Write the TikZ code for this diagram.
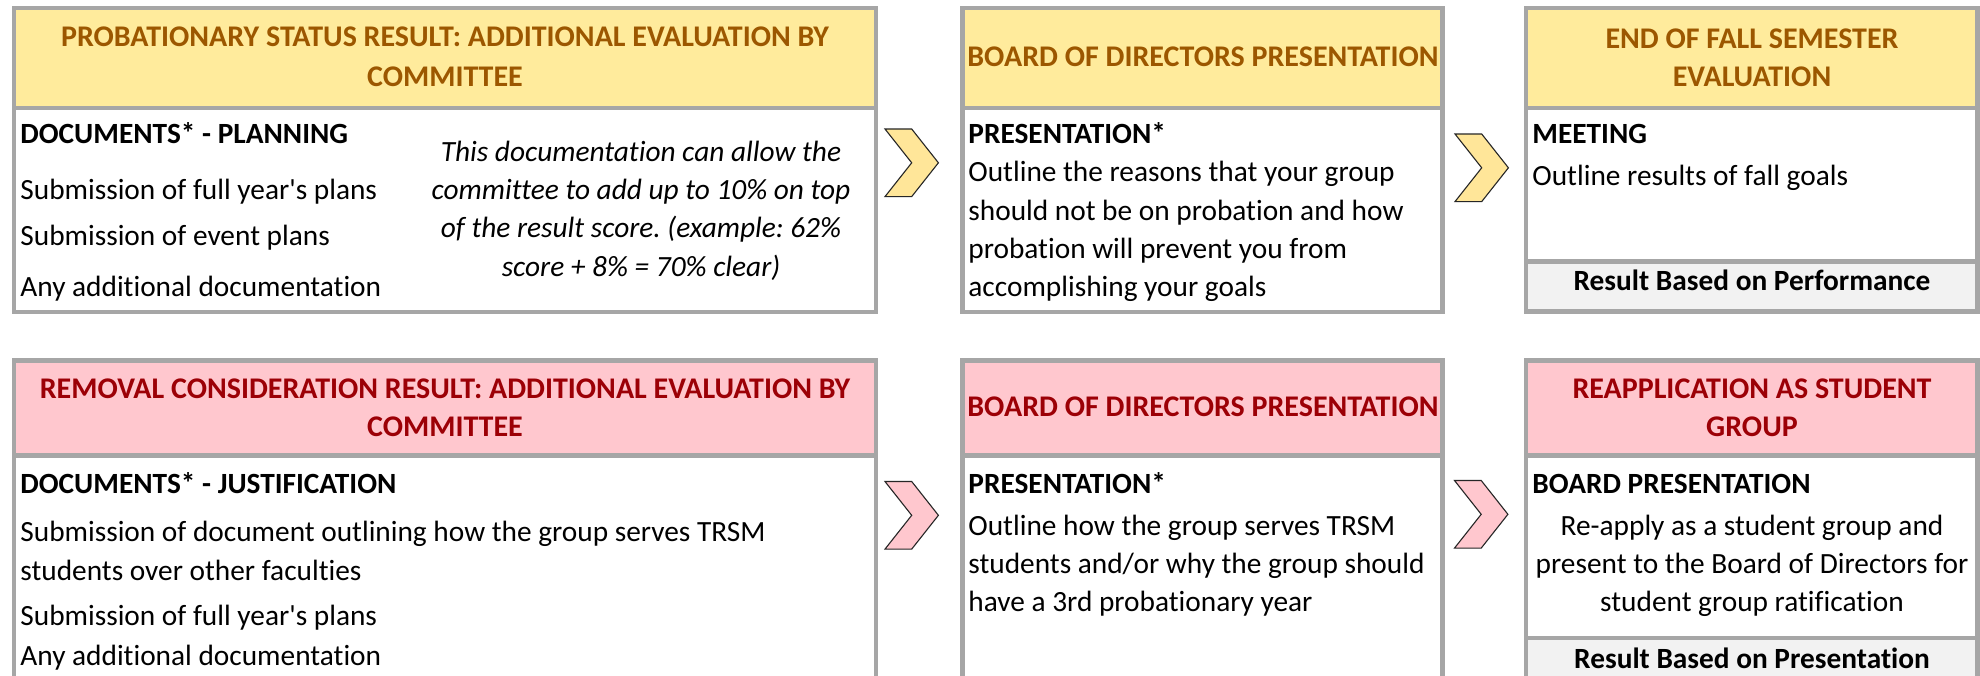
\documentclass[tikz,border=0pt]{standalone}
\usepackage{fontspec}
\setmainfont{Carlito}[Ligatures={NoCommon}]
\frenchspacing

\definecolor{neutralfill}{HTML}{FFEB9C}
\definecolor{neutraltext}{HTML}{9C5700}
\definecolor{badfill}{HTML}{FFC7CE}
\definecolor{badtext}{HTML}{9C0006}
\definecolor{cellgray}{HTML}{A6A6A6}
\definecolor{resultfill}{HTML}{F2F2F2}
\definecolor{chevfill}{HTML}{FFE699}

\newcommand\cellfont{\fontsize{14.67pt}{19.17pt}\selectfont}
\newcommand\headfont{\fontsize{15pt}{19.17pt}\selectfont\bfseries}

\tikzset{
  gridline/.style={draw=cellgray, line width=2.25pt},
  txt/.style={inner sep=0pt, anchor=base west},
  ctxt/.style={inner sep=0pt, anchor=base},
  neutralhead/.style={ctxt, font=\headfont, text=neutraltext},
  badhead/.style={ctxt, font=\headfont, text=badtext},
  chevyellow/.style={fill=chevfill, draw=black!85, line width=0.55pt, line join=miter},
  chevpink/.style={fill=badfill, draw=black!85, line width=0.55pt, line join=miter}
}

\begin{document}
\begin{tikzpicture}[x=0.5pt, y=-0.5pt, font=\cellfont]
\useasboundingbox (0,0) rectangle (1980,675);
\clip (0,0) rectangle (1980,675);
\fill[white] (0,0) rectangle (1980,675);

% fills of the header and result cells
\fill[neutralfill] (14,8) rectangle (876,108);
\fill[neutralfill] (962.5,8) rectangle (1442.5,108);
\fill[neutralfill] (1526,8) rectangle (1977.5,108);
\fill[resultfill] (1526,261.5) rectangle (1977.5,311.5);
\fill[badfill] (14,360.5) rectangle (876,455.5);
\fill[badfill] (962.5,360.5) rectangle (1442.5,455.5);
\fill[badfill] (1526,360.5) rectangle (1977.5,455.5);
\fill[resultfill] (1526,638) rectangle (1977.5,690);

% top row boxes
\draw[gridline] (14,8) rectangle (876,311.8);
\draw[gridline] (14,108) -- (876,108);
\draw[gridline] (962.5,8) rectangle (1442.5,311.8);
\draw[gridline] (962.5,108) -- (1442.5,108);
\draw[gridline] (1526,8) rectangle (1977.5,311.5);
\draw[gridline] (1526,108) -- (1977.5,108);
\draw[gridline] (1526,261.5) -- (1977.5,261.5);

% bottom row boxes (cut at the page edge)
\draw[gridline] (14,690) -- (14,360.5) -- (876,360.5) -- (876,690);
\draw[gridline] (14,455.5) -- (876,455.5);
\draw[gridline] (962.5,690) -- (962.5,360.5) -- (1442.5,360.5) -- (1442.5,690);
\draw[gridline] (962.5,455.5) -- (1442.5,455.5);
\draw[gridline] (1526,690) -- (1526,360.5) -- (1977.5,360.5) -- (1977.5,690);
\draw[gridline] (1526,455.5) -- (1977.5,455.5);
\draw[gridline] (1526,638) -- (1977.5,638);

% chevrons
\draw[chevyellow] (885,129) -- ++(26.7,0) -- ++(26.7,33.8) -- ++(-26.7,33.8) -- ++(-26.7,0) -- ++(26.7,-33.8) -- cycle;
\draw[chevyellow] (1455,134) -- ++(26.7,0) -- ++(26.7,33.8) -- ++(-26.7,33.8) -- ++(-26.7,0) -- ++(26.7,-33.8) -- cycle;
\draw[chevpink] (885,481.5) -- ++(26.7,0) -- ++(26.7,33.8) -- ++(-26.7,33.8) -- ++(-26.7,0) -- ++(26.7,-33.8) -- cycle;
\draw[chevpink] (1454.5,480.5) -- ++(26.7,0) -- ++(26.7,33.8) -- ++(-26.7,33.8) -- ++(-26.7,0) -- ++(26.7,-33.8) -- cycle;

% probationary row
\node[neutralhead] (probhead) at (445,46.7) {PROBATIONARY STATUS RESULT: ADDITIONAL EVALUATION BY};
\node[neutralhead] (probheadb) at (445,86.7) {COMMITTEE};
\node[txt, font=\cellfont\bfseries] (planning) at (20,143.3) {DOCUMENTS* - PLANNING};
\node[txt] (planyear) at (20,199.3) {Submission of full year\textquotesingle s plans};
\node[txt] (planevent) at (20,245) {Submission of event plans};
\node[txt] (planextra) at (20,296) {Any additional documentation};
\node[ctxt, font=\cellfont\itshape] (notea) at (641,161) {This documentation can allow the};
\node[ctxt, font=\cellfont\itshape] (noteb) at (641,199.3) {committee to add up to 10\% on top};
\node[ctxt, font=\cellfont\itshape] (notec) at (641,237.7) {of the result score. (example: 62\%};
\node[ctxt, font=\cellfont\itshape] (noted) at (641,276) {score + 8\% = 70\% clear)};

\node[neutralhead] (boardhead) at (1203,66.7) {BOARD OF DIRECTORS PRESENTATION};
\node[txt, font=\cellfont\bfseries] (presa) at (968,143.3) {PRESENTATION*};
\node[txt] (presa1) at (968,181.7) {Outline the reasons that your group};
\node[txt] (presa2) at (968,220) {should not be on probation and how};
\node[txt] (presa3) at (968,258.3) {probation will prevent you from};
\node[txt] (presa4) at (968,296.7) {accomplishing your goals};

\node[neutralhead] (fallhead) at (1752,48.3) {END OF FALL SEMESTER};
\node[neutralhead] (fallheadb) at (1752,86.7) {EVALUATION};
\node[txt, font=\cellfont\bfseries] (meeting) at (1532,143.3) {MEETING};
\node[txt] (meeting1) at (1532,185.5) {Outline results of fall goals};
\node[ctxt, font=\cellfont\bfseries] (perfres) at (1752,290) {Result Based on Performance};

% removal row
\node[badhead] (remhead) at (445,398.3) {REMOVAL CONSIDERATION RESULT: ADDITIONAL EVALUATION BY};
\node[badhead] (remheadb) at (445,436.7) {COMMITTEE};
\node[txt, font=\cellfont\bfseries] (justif) at (20,493.3) {DOCUMENTS* - JUSTIFICATION};
\node[txt] (justif1) at (20,541.7) {Submission of document outlining how the group serves TRSM};
\node[txt] (justif2) at (20,580) {students over other faculties};
\node[txt] (justif3) at (20,625) {Submission of full year\textquotesingle s plans};
\node[txt] (justif4) at (20,665) {Any additional documentation};

\node[badhead] (boardheadb) at (1203,416.7) {BOARD OF DIRECTORS PRESENTATION};
\node[txt, font=\cellfont\bfseries] (presb) at (968,493.3) {PRESENTATION*};
\node[txt] (presb1) at (968,535) {Outline how the group serves TRSM};
\node[txt] (presb2) at (968,573.3) {students and/or why the group should};
\node[txt] (presb3) at (968,611.7) {have a 3rd probationary year};

\node[badhead] (reaphead) at (1752,398.3) {REAPPLICATION AS STUDENT};
\node[badhead] (reapheadb) at (1752,436.7) {GROUP};
\node[txt, font=\cellfont\bfseries] (boardpres) at (1532,493.3) {BOARD PRESENTATION};
\node[ctxt] (reap1) at (1752,535) {Re-apply as a student group and};
\node[ctxt] (reap2) at (1752,573.3) {present to the Board of Directors for};
\node[ctxt] (reap3) at (1752,611.7) {student group ratification};
\node[ctxt, font=\cellfont\bfseries] (presres) at (1752,668.3) {Result Based on Presentation};
\end{tikzpicture}
\end{document}
